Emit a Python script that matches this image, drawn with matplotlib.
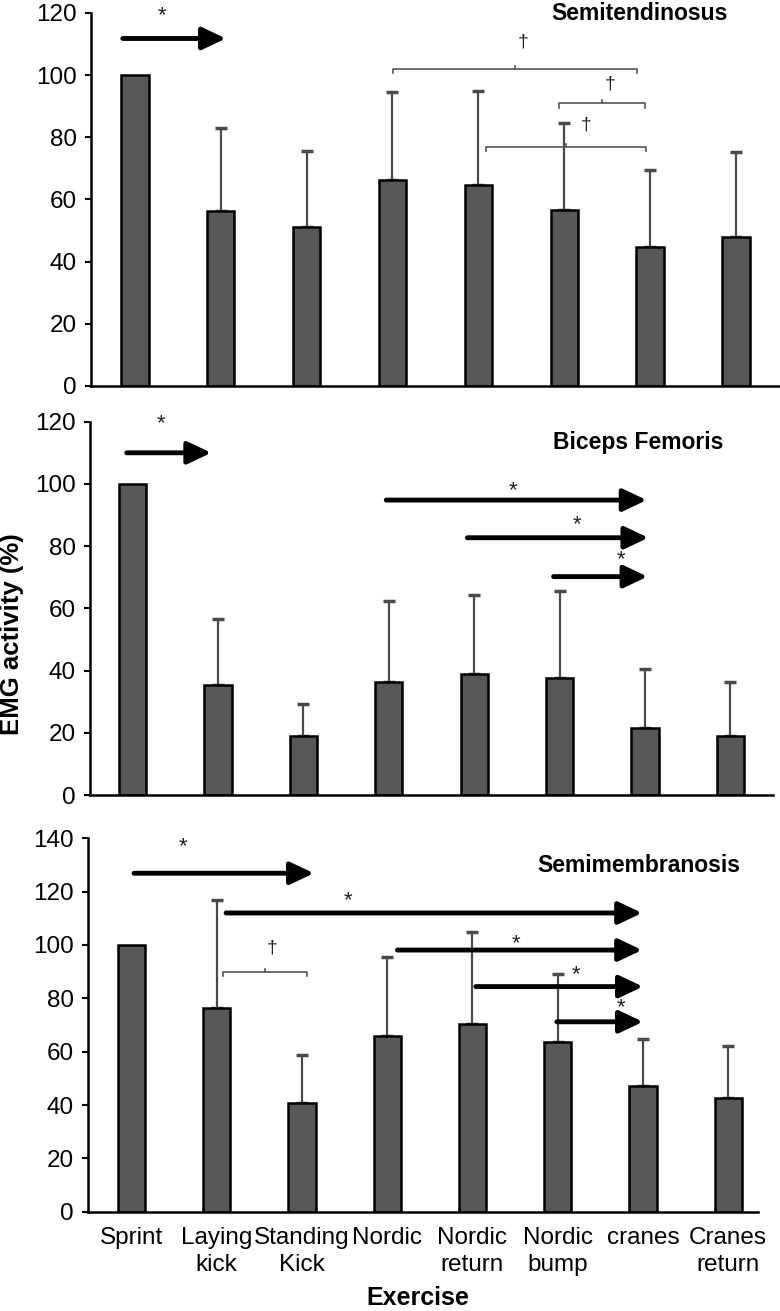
import matplotlib
matplotlib.use("Agg")
import matplotlib.pyplot as plt
import numpy as np

plt.rcParams['font.family'] = ['Liberation Sans', 'DejaVu Sans']

exercises = ["Sprint", "Laying\nkick", "Standing\nKick", "Nordic", "Nordic\nreturn",
             "Nordic\nbump", "cranes", "Cranes\nreturn"]

# Semitendinosus
st_mean = [100, 56.2, 51.0, 66.3, 64.7, 56.5, 44.8, 48.0]
st_sd = [0, 26.8, 24.6, 28.2, 30.3, 28.0, 24.6, 27.2]
# Biceps femoris
bf_mean = [100, 35.4, 19.0, 36.4, 38.8, 37.7, 21.4, 19.1]
bf_sd = [0, 21.2, 10.2, 26.0, 25.6, 27.9, 19.0, 17.3]
# Semimembranosis
sm_mean = [100, 76.5, 40.8, 66.0, 70.3, 63.5, 47.2, 42.8]
sm_sd = [0, 40.5, 18.0, 29.5, 34.7, 25.6, 17.6, 19.5]

muscles = ["Semitendinosus", "Biceps Femoris", "Semimembranosis"]

# significance arrows: (from, to, level, star_x, star_y)
st_arrows = [(-0.14, 1.06, 111.8, 0.32, 119.0)]
bf_arrows = [(-0.07, 0.92, 110.0, 0.33, 119.5),
             (2.97, 6.02, 94.8, 4.45, 97.8),
             (3.92, 6.04, 82.7, 5.20, 87.0),
             (4.93, 6.03, 70.2, 5.72, 75.5)]
sm_arrows = [(0.03, 2.14, 126.9, 0.60, 137.0),
             (1.11, 5.99, 112.0, 2.54, 116.5),
             (3.12, 5.99, 98.1, 4.51, 100.5),
             (4.04, 6.00, 84.4, 5.22, 89.0),
             (4.99, 6.00, 71.2, 5.74, 76.5)]
# brackets: (from, to, level, dagger_x, dagger_y)
st_brackets = [(3.01, 5.85, 102.0, 4.52, 110.8),
               (4.94, 5.94, 91.0, 5.53, 97.0),
               (4.09, 5.95, 76.9, 5.25, 83.9)]
bf_brackets = []
sm_brackets = [(1.07, 2.06, 90.0, 1.65, 98.8)]

W, H = 780, 1311
fig = plt.figure(figsize=(W / 100, H / 100), dpi=100)

def fr(x0, x1, ytop, ybot):
    return [x0 / W, 1 - ybot / H, (x1 - x0) / W, (ybot - ytop) / H]

axes_px = [fr(91, 779, 13, 386), fr(90, 773, 421.7, 795), fr(88, 758, 838.3, 1211.7)]
ylims = [120, 120, 140]
means = [st_mean, bf_mean, sm_mean]
sds = [st_sd, bf_sd, sm_sd]
arrows = [st_arrows, bf_arrows, sm_arrows]
brackets = [st_brackets, bf_brackets, sm_brackets]
title_px = [(640, 14), (638, 443), (639, 865)]
xr = [(-0.51, 7.5), (-0.50, 7.5), (-0.51, 7.35)]

x = np.arange(len(exercises))
for i in range(3):
    ax = fig.add_axes(axes_px[i])
    ax.bar(x, means[i], width=0.32, color='#585858', edgecolor='black', linewidth=1.8, zorder=2)
    m = np.array(means[i]); s = np.array(sds[i])
    mask = s > 0
    ax.errorbar(x[mask], m[mask], yerr=[np.zeros(mask.sum()), s[mask]], fmt='none',
                ecolor='#4a4a4a', elinewidth=1.6, capsize=4, capthick=2.5, zorder=1)
    ax.set_xlim(*xr[i])
    ax.set_ylim(0, ylims[i])
    ax.set_yticks(np.arange(0, ylims[i] + 1, 20))
    ax.spines['top'].set_visible(False)
    ax.spines['right'].set_visible(False)
    ax.spines['left'].set_linewidth(1.8)
    ax.spines['bottom'].set_linewidth(1.8)
    ax.tick_params(axis='y', direction='out', length=4, width=1.5, labelsize=17.5, pad=6)
    ax.tick_params(axis='x', length=0, labelsize=17.5, pad=11)
    if i == 2:
        ax.set_xticks(x)
        ax.set_xticklabels(exercises, linespacing=1.3)
    else:
        ax.set_xticks([])
    for (a0, a1, lev, sx, sy) in arrows[i]:
        ax.annotate('', xy=(a1, lev), xytext=(a0, lev),
                    arrowprops=dict(arrowstyle='-|>,head_length=0.95,head_width=0.45',
                                    lw=3.5, color='black', shrinkA=0, shrinkB=0,
                                    mutation_scale=15))
        ax.text(sx, sy, '*', ha='center', va='center', fontsize=16, color='#222')
    for (b0, b1, lev, dx, dy) in brackets[i]:
        d = ylims[i] * 0.012
        ax.plot([b0, b0, b1, b1], [lev - d, lev, lev, lev - d], color='#555', lw=1.2)
        mid = (b0 + b1) / 2
        ax.plot([mid, mid], [lev, lev + d * 0.6], color='#555', lw=1.2)
        ax.text(dx, dy, '†', ha='center', va='center', fontsize=14, color='#222')
    tx, ty = title_px[i]
    fig.text(tx / W, 1 - ty / H, muscles[i], ha='center', va='center',
             fontsize=16.5, fontweight='bold')

fig.text(12 / W, 1 - 634 / H, "EMG activity (%)", rotation=90, ha='center', va='center',
         fontsize=18.5, fontweight='bold')
fig.text(418 / W, 1 - 1298 / H, "Exercise", ha='center', va='center',
         fontsize=18, fontweight='bold')

fig.savefig("out.png", dpi=100)
